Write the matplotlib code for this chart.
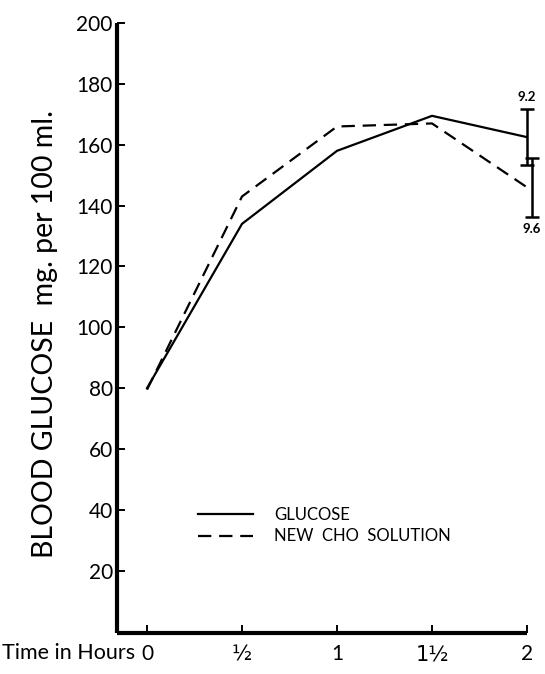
import matplotlib
matplotlib.use('Agg')
import matplotlib.pyplot as plt
import matplotlib.transforms as mtransforms

plt.rcParams['font.family'] = ['Lato', 'DejaVu Sans']

# time in hours
hours = [0, 0.5, 1, 1.5, 2]
hour_labels = ['0', '½', '1', '1½', '2']

# blood glucose, mg per 100 ml
glucose = [80, 134, 158, 169.5, 162.5]
new_cho = [79.5, 143, 166, 167, 146]

# standard errors at 2 hours
glucose_err = 9.2
new_cho_err = 9.6

y_ticks = [20, 40, 60, 80, 100, 120, 140, 160, 180, 200]

figure = plt.figure(figsize=(5.45, 6.74), dpi=100)
ax = figure.add_axes([0.2147, 0.0608, 0.7523, 0.905])

ax.plot(hours, glucose, color='black', lw=1.6, label='GLUCOSE')
ax.plot(hours, new_cho, color='black', lw=1.6, linestyle=(0, (6, 3.5)),
        label='NEW  CHO  SOLUTION')

# error bars at the last time point, dashed one nudged right
shift = mtransforms.ScaledTranslation(5 / 100, 0, figure.dpi_scale_trans)
eb1 = ax.errorbar(hours[-1], glucose[-1], yerr=glucose_err, color='black', lw=1.8,
                  capsize=5, capthick=1.8)
eb2 = ax.errorbar(hours[-1], new_cho[-1], yerr=new_cho_err, color='black', lw=1.8,
                  capsize=5, capthick=1.8, transform=ax.transData + shift)
for eb in [eb1, eb2]:
    for art in eb.get_children():
        art.set_clip_on(False)

ax.text(hours[-1], glucose[-1] + glucose_err + 2, str(glucose_err), ha='center',
        va='bottom', fontsize=9.5, fontweight='bold')
ax.text(hours[-1], new_cho[-1] - new_cho_err - 2, str(new_cho_err), ha='center',
        va='top', fontsize=9.5, fontweight='bold', transform=ax.transData + shift)

ax.set_xlim(-0.158, 2.0)
ax.set_ylim(-0.5, 200)
ax.set_xticks(hours)
ax.set_xticklabels(hour_labels)
ax.set_yticks(y_ticks)
ax.set_yticklabels([str(v) for v in y_ticks])
for lbl in ax.get_xticklabels():
    if '½' in lbl.get_text():
        lbl.set_family(['DejaVu Sans'])
        lbl.set_fontsize(17)

for side in ['top', 'right']:
    ax.spines[side].set_visible(False)
for side in ['left', 'bottom']:
    ax.spines[side].set_linewidth(3)
    ax.spines[side].set_capstyle('butt')

ax.tick_params(axis='y', direction='in', length=6, width=1.4, labelsize=15, pad=3)
ax.tick_params(axis='x', direction='in', length=6, width=1.4, labelsize=15, pad=8)

ax.set_ylabel('BLOOD GLUCOSE  mg. per 100 ml.', fontsize=20.5)
ax.yaxis.set_label_coords(-0.145, 0.49)

figure.text(0.248, 0.0305, 'Time in Hours', ha='right', va='center', fontsize=15.5)

leg = ax.legend(loc='upper left', bbox_to_anchor=(0.16, 0.232), frameon=False,
                fontsize=12, handlelength=3.3, handletextpad=1.3, labelspacing=0.35)

plt.savefig('out.png', dpi=100)
